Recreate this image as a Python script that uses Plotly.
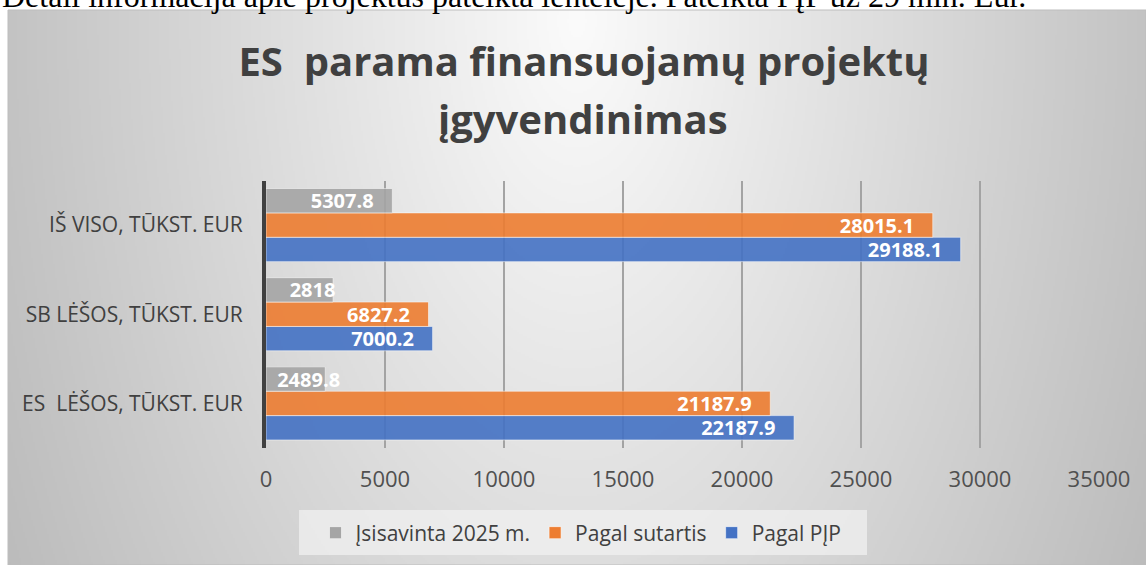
import base64
import struct
import zlib

import numpy as np
import plotly.graph_objects as go

# ---------------- data ----------------
categories = ["ES\u00a0\u00a0LĖŠOS, TŪKST. EUR", "SB LĖŠOS, TŪKST. EUR", "IŠ VISO, TŪKST. EUR"]
pagal_pjp = [22187.9, 7000.2, 29188.1]
pagal_sutarti = [21187.9, 6827.2, 28015.1]
isisavinta = [2489.8, 2818, 5307.8]
series_names = ["Pagal PĮP", "Pagal sutartis", "Įsisavinta 2025 m."]
x_ticks = [0, 5000, 10000, 15000, 20000, 25000, 30000, 35000]

title_line1 = "ES\u00a0\u00a0parama finansuojamų projektų"
title_line2 = "įgyvendinimas"
top_text = "Detali informacija apie projektus pateikta lentelėje. Pateikta PĮP už 29 mln. Eur."

W, H = 1146, 565


def px_x(p):
    return p / W


def px_y(p):
    return (H - p) / H


# ---------------- background gradient (decoration) ----------------
def make_png(arr):
    h, w, _ = arr.shape
    raw = b"".join(b"\x00" + arr[i].tobytes() for i in range(h))

    def chunk(tag, data):
        c = struct.pack(">I", len(data)) + tag + data
        return c + struct.pack(">I", zlib.crc32(tag + data) & 0xFFFFFFFF)

    return (b"\x89PNG\r\n\x1a\n"
            + chunk(b"IHDR", struct.pack(">IIBBBBB", w, h, 8, 2, 0, 0, 0))
            + chunk(b"IDAT", zlib.compress(raw, 9))
            + chunk(b"IEND", b""))


fx0, fy0, fx1, fy1 = 8, 10, W, H
gw, gh = (fx1 - fx0) // 2, (fy1 - fy0) // 2
xs = np.linspace(fx0, fx1, gw)
ys = np.linspace(fy0, fy1, gh)
XX, YY = np.meshgrid(xs, ys)
r = np.sqrt(((XX - 577) / 573.0) ** 2 + ((YY - 20) / 1030.0) ** 2)
v = np.clip(251 - 56 * r, 0, 255).astype(np.uint8)
img = np.stack([v, v, v], axis=-1)
uri = "data:image/png;base64," + base64.b64encode(make_png(img)).decode()

# ---------------- figure ----------------
fig = go.Figure()

colors = ["#4472c4", "#ed7d31", "#a5a5a5"]
anchors = ["end", "end", "middle"]
templates = ["%{text}\u00a0\u00a0\u00a0", "%{text}\u00a0\u00a0\u00a0",
             "\u00a0\u00a0\u00a0\u00a0\u00a0%{text}"]
for name, vals, col, anc, tpl in zip(series_names, [pagal_pjp, pagal_sutarti, isisavinta],
                                     colors, anchors, templates):
    fig.add_trace(go.Bar(
        y=categories, x=vals, orientation="h", name=name,
        marker=dict(color=col, opacity=0.9, line=dict(color="rgba(255,255,255,0.55)", width=1)),
        text=[f"{x:g}" for x in vals],
        texttemplate=tpl,
        textposition="inside", insidetextanchor=anc,
        textfont=dict(family="Open Sans", size=20, color="white", weight="bold"),
        constraintext="none",
        hoverinfo="x+y",
    ))

fig.update_layout(
    width=W, height=H, autosize=False,
    margin=dict(l=0, r=0, t=0, b=0, pad=0, autoexpand=False),
    paper_bgcolor="white",
    plot_bgcolor="rgba(0,0,0,0)",
    barmode="group", bargap=0.18, bargroupgap=0.0,
    uniformtext=dict(mode="show", minsize=20),
    font=dict(family="Open Sans", color="#404040"),
    title=dict(
        text=title_line1, x=px_x(584), xanchor="center",
        y=px_y(61.5), yanchor="middle", yref="container",
        font=dict(family="Open Sans", size=40, color="#404040", weight="bold"),
    ),
    xaxis=dict(
        domain=[px_x(266), px_x(1099)], range=[0, 35000],
        tickvals=x_ticks, tickformat="d", automargin=False,
        showgrid=True, gridcolor="#a3a3a3", gridwidth=1.5,
        zeroline=False, showline=False, ticks="",
        tickfont=dict(family="Open Sans", size=22, color="#505050"),
        ticklabelstandoff=16,
    ),
    yaxis=dict(
        domain=[px_y(448), px_y(180.5)], automargin=False,
        showgrid=False, zeroline=False,
        showline=True, linecolor="#404040", linewidth=4,
        ticks="", tickfont=dict(family="Open Sans", size=21, color="#404040"),
        ticklabelstandoff=15,
    ),
    legend=dict(
        orientation="h", traceorder="reversed",
        x=px_x(581), xanchor="center", y=px_y(533), yanchor="middle",
        bgcolor="rgba(0,0,0,0)", borderwidth=0,
        font=dict(family="Open Sans", size=21, color="#404040"),
    ),
    images=[dict(
        source=uri, xref="paper", yref="paper",
        x=px_x(fx0), y=px_y(fy0), sizex=px_x(fx1 - fx0), sizey=(fy1 - fy0) / H,
        xanchor="left", yanchor="top", sizing="stretch", layer="below",
    )],
    shapes=[
        dict(type="rect", xref="paper", yref="paper",
             x0=px_x(fx0), x1=1.0, y0=0, y1=px_y(fy0),
             line=dict(color="#bdbdbd", width=1), fillcolor="rgba(0,0,0,0)", layer="below"),
        dict(type="rect", xref="paper", yref="paper",
             x0=px_x(299), x1=px_x(867), y0=px_y(555), y1=px_y(510),
             line=dict(width=0), fillcolor="rgba(240,240,240,0.75)", layer="below"),
    ],
    annotations=[
        dict(text=title_line2, xref="paper", yref="paper",
             x=px_x(583), xanchor="center", y=px_y(118.5), yanchor="middle",
             showarrow=False,
             font=dict(family="Open Sans", size=40, color="#404040", weight="bold")),
        dict(text=top_text, xref="paper", yref="paper",
             x=0, xanchor="left", y=px_y(-4), yanchor="middle",
             showarrow=False,
             font=dict(family="Liberation Serif", size=32, color="black")),
    ],
)

fig.write_html(
    "out.html",
    config={"displayModeBar": False},
    post_script="document.body.style.margin='0';document.body.style.overflow='hidden';",
)
